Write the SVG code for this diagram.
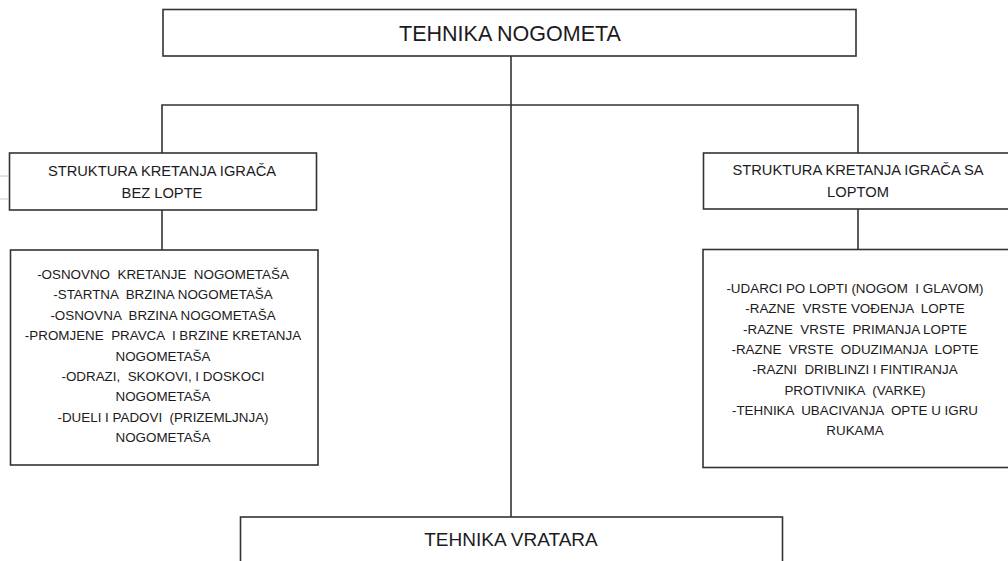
<svg xmlns="http://www.w3.org/2000/svg" width="1008" height="561" viewBox="0 0 1008 561">
<style>
.box{fill:#fff;stroke:#333;stroke-width:1.6}
.ln{stroke:#333;stroke-width:1.6;fill:none}
text{font-family:"Liberation Sans",Arial,sans-serif;fill:#1c1a22;text-anchor:middle;white-space:pre}
.t1{font-size:21.5px}
.t2{font-size:19px}
.h{font-size:14.7px}
.l{font-size:13.4px}
.tick{stroke:#c8c8c8;stroke-width:1}
</style>
<rect x="0" y="0" width="1008" height="561" fill="#fff"/>
<g id="connectors">
<line class="ln" x1="511" y1="56" x2="511" y2="517"/>
<polyline class="ln" points="162,153 162,105 858,105 858,153"/>
<line class="ln" x1="162" y1="210" x2="162" y2="250"/>
<line class="ln" x1="858" y1="209" x2="858" y2="249"/>
</g>
<g id="ticks">
<line class="tick" x1="0" y1="176" x2="8" y2="176"/>
<line class="tick" x1="0" y1="199" x2="8" y2="199"/>
</g>
<g id="n-root">
<rect class="box" x="163" y="9.5" width="693" height="46.5"/>
<text class="t1" x="510" y="40.5">TEHNIKA NOGOMETA</text>
</g>
<g id="n-bez">
<rect class="box" x="9.5" y="153" width="307" height="57"/>
<text class="h" x="162" y="176">STRUKTURA KRETANJA IGRAČA</text>
<text class="h" x="162" y="198">BEZ LOPTE</text>
</g>
<g id="n-bez-list">
<rect class="box" x="10.5" y="250" width="307.5" height="215"/>
<text class="l" x="163" y="279">-OSNOVNO  KRETANJE  NOGOMETAŠA</text>
<text class="l" x="163" y="299.4">-STARTNA  BRZINA NOGOMETAŠA</text>
<text class="l" x="163" y="319.8">-OSNOVNA  BRZINA NOGOMETAŠA</text>
<text class="l" x="163" y="340.2">-PROMJENE  PRAVCA  I BRZINE KRETANJA</text>
<text class="l" x="163" y="360.6">NOGOMETAŠA</text>
<text class="l" x="163" y="381">-ODRAZI,  SKOKOVI, I DOSKOCI</text>
<text class="l" x="163" y="401.4">NOGOMETAŠA</text>
<text class="l" x="163" y="421.8">-DUELI I PADOVI  (PRIZEMLJNJA)</text>
<text class="l" x="163" y="442.2">NOGOMETAŠA</text>
</g>
<g id="n-sa">
<rect class="box" x="703.5" y="153" width="306" height="56"/>
<text class="h" x="858" y="175">STRUKTURA KRETANJA IGRAČA SA</text>
<text class="h" x="858" y="197">LOPTOM</text>
</g>
<g id="n-sa-list">
<rect class="box" x="703" y="249.5" width="306" height="218"/>
<text class="l" x="855" y="293">-UDARCI PO LOPTI (NOGOM  I GLAVOM)</text>
<text class="l" x="855" y="313.3">-RAZNE  VRSTE VOĐENJA  LOPTE</text>
<text class="l" x="855" y="333.6">-RAZNE  VRSTE  PRIMANJA LOPTE</text>
<text class="l" x="855" y="353.9">-RAZNE  VRSTE  ODUZIMANJA  LOPTE</text>
<text class="l" x="855" y="374.2">-RAZNI  DRIBLINZI I FINTIRANJA</text>
<text class="l" x="855" y="394.5">PROTIVNIKA  (VARKE)</text>
<text class="l" x="855" y="414.8">-TEHNIKA  UBACIVANJA  OPTE U IGRU</text>
<text class="l" x="855" y="435.1">RUKAMA</text>
</g>
<g id="n-vratar">
<rect class="box" x="240.5" y="517" width="542" height="60"/>
<text class="t2" x="511" y="546">TEHNIKA VRATARA</text>
</g>
</svg>
